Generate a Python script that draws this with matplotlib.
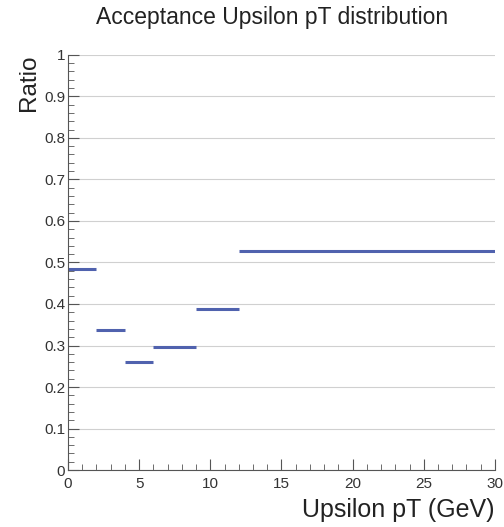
import matplotlib.pyplot as plt
from matplotlib.ticker import MultipleLocator, FuncFormatter

plt.rcParams['font.family'] = ['Liberation Sans', 'DejaVu Sans']

# pT bin edges (GeV) and acceptance ratio per bin
pt_edges = [0, 2, 4, 6, 9, 12, 30]
ratio = [0.484, 0.337, 0.260, 0.297, 0.387, 0.527]

fig = plt.figure(figsize=(5.04, 5.27), dpi=100)
ax = fig.add_axes([0.135, 0.108, 0.847, 0.788])

ax.hlines(ratio, pt_edges[:-1], pt_edges[1:], color='#5062ae', linewidth=2.2)

ax.set_xlim(0, 30)
ax.set_ylim(0, 1)

ax.yaxis.set_major_locator(MultipleLocator(0.1))
ax.yaxis.set_minor_locator(MultipleLocator(0.02))
ax.xaxis.set_major_locator(MultipleLocator(5))
ax.xaxis.set_minor_locator(MultipleLocator(1))
ax.yaxis.set_major_formatter(FuncFormatter(lambda v, p: '%g' % round(v, 2)))

ax.grid(axis='y', which='major', color='#d0d0d0', linewidth=0.8)
ax.set_axisbelow(True)

for s in ['top', 'right']:
    ax.spines[s].set_visible(False)
ax.spines['left'].set_color('#555555')
ax.spines['bottom'].set_color('#555555')

ax.tick_params(which='both', direction='in', color='#555555', labelsize=11,
               labelcolor='#333333')
ax.tick_params(which='major', length=8)
ax.tick_params(which='minor', length=4)
ax.tick_params(axis='y', pad=2)
ax.tick_params(axis='x', pad=5)

fig.text(0.54, 0.966, 'Acceptance Upsilon pT distribution', fontsize=16.5,
         color='#222222', ha='center', va='center')
ax.set_xlabel('Upsilon pT (GeV)', fontsize=18, loc='right', color='#222222',
              labelpad=5)
ax.set_ylabel('Ratio', fontsize=17.5, loc='top', color='#222222', labelpad=3)

fig.savefig('out.png', dpi=100)
plt.close(fig)
